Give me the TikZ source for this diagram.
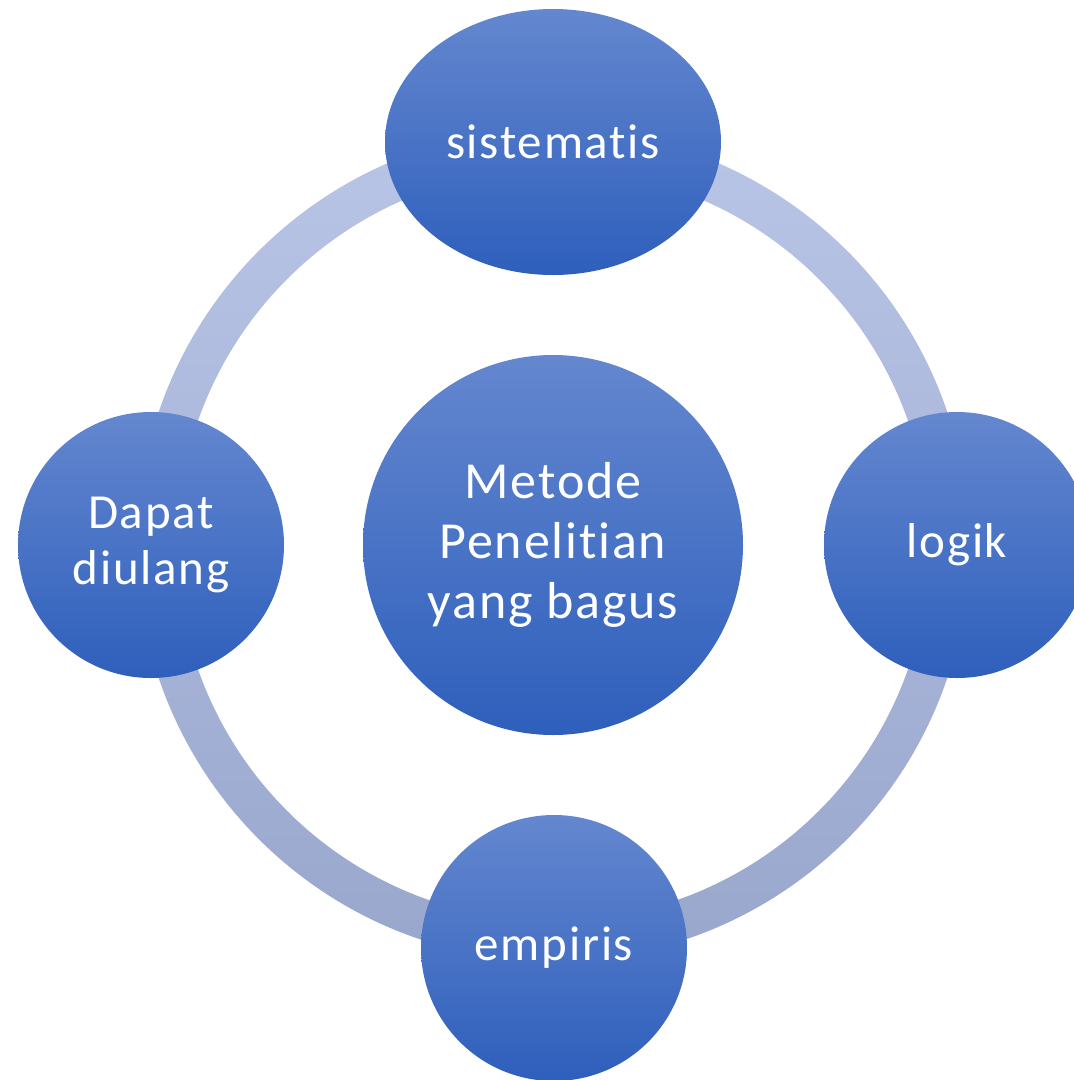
\documentclass[tikz,border=0pt]{standalone}
\usepackage{fontspec}
\setmainfont{Carlito}[Ligatures = NoCommon, LetterSpace = 3.5]
\usetikzlibrary{shapes.geometric}
\definecolor{bubbletop}{HTML}{6487CF}
\definecolor{bubblebot}{HTML}{2E5FBC}
\definecolor{ringtop}{HTML}{B8C5E6}
\definecolor{ringbot}{HTML}{9AA7CD}
\begin{document}
\begin{tikzpicture}[x=1pt, y=-1pt,
    bubble/.style = {circle, minimum size = 266pt, inner sep = 0pt, align = center,
                     top color = bubbletop, bottom color = bubblebot, text = white,
                     font = \fontsize{49}{56}\selectfont}]
    \useasboundingbox (0,0) rectangle (1074,1080);
    \clip (0,0) rectangle (1074,1080);
    \coordinate (mid) at (553,545);
    % ring
    \shade[top color = ringtop, bottom color = ringbot, even odd rule]
        (mid) circle (416) (mid) circle (376);
    \node[bubble, minimum size = 380pt, font = \fontsize{52}{60}\selectfont]
        (metode) at (mid) {Metode\\Penelitian\\yang bagus};
    \node[bubble, ellipse, minimum width = 336pt, minimum height = 266pt] (sistematis) at (553,142) {sistematis};
    \node[bubble] (logik) at (957,545) {logik};
    \node[bubble] (empiris) at (554,948) {empiris};
    \node[bubble] (diulang) at (151,545) {Dapat\\diulang};
\end{tikzpicture}
\end{document}
